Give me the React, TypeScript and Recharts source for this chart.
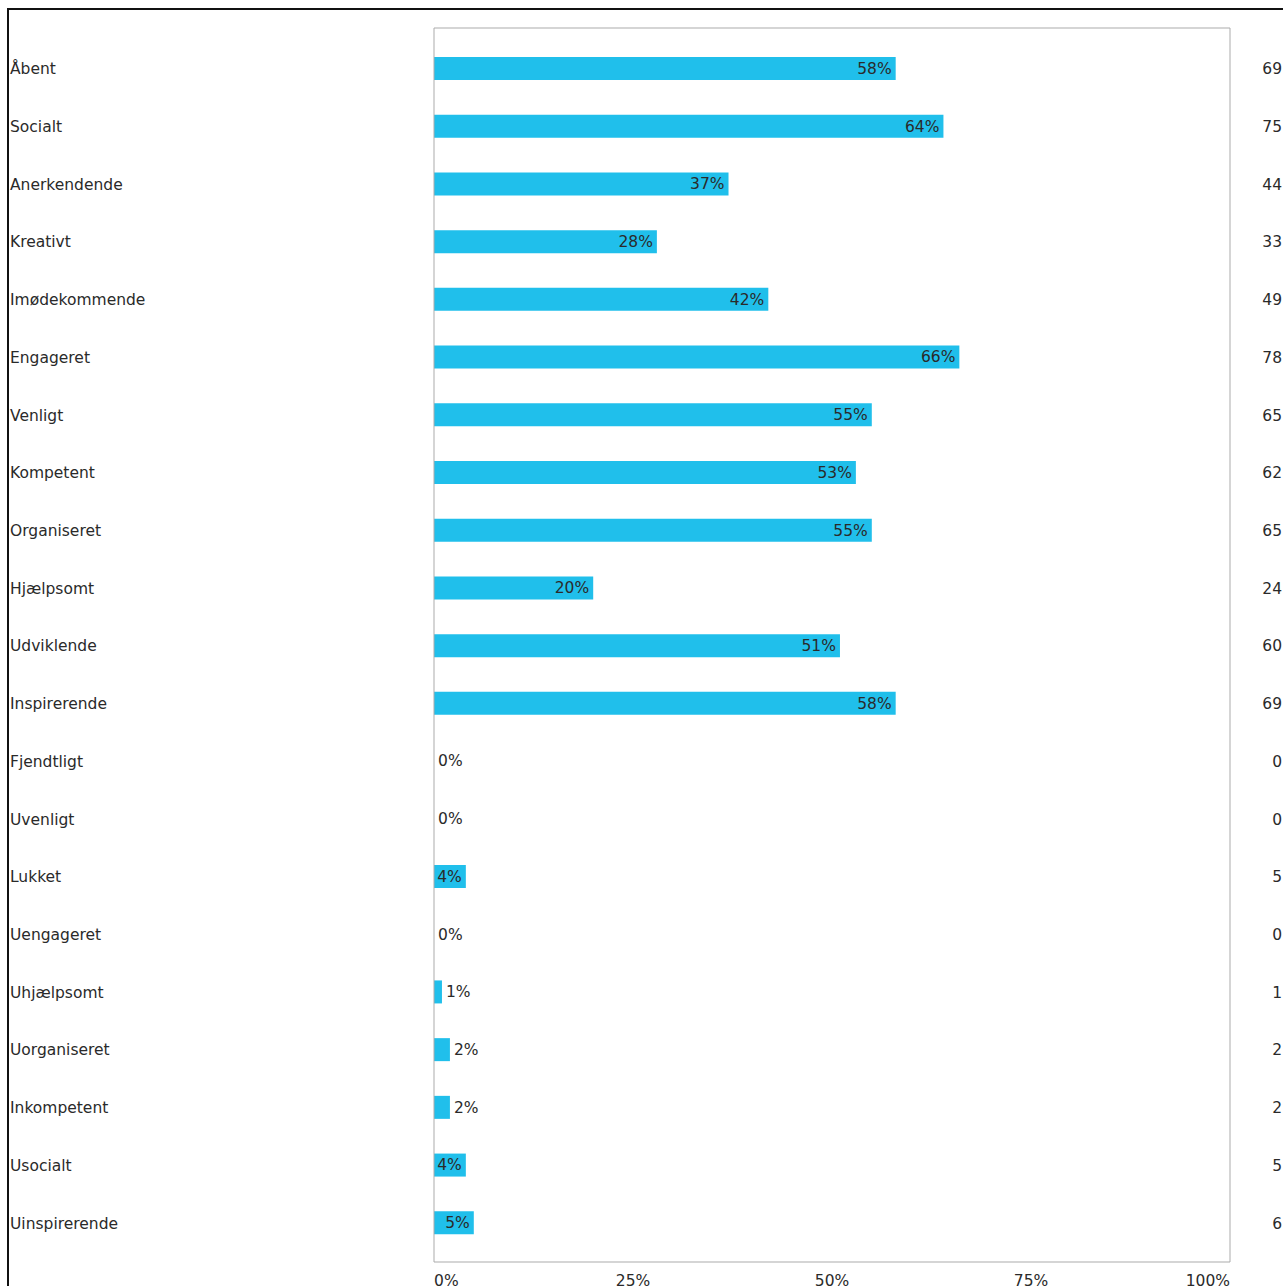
import React from "react";
import { BarChart, Bar, XAxis, YAxis, LabelList } from "recharts";

const categories = [
  "Åbent", "Socialt", "Anerkendende", "Kreativt", "Imødekommende", "Engageret", "Venligt",
  "Kompetent", "Organiseret", "Hjælpsomt", "Udviklende", "Inspirerende", "Fjendtligt",
  "Uvenligt", "Lukket", "Uengageret", "Uhjælpsomt", "Uorganiseret", "Inkompetent",
  "Usocialt", "Uinspirerende",
];
const percents = [58, 64, 37, 28, 42, 66, 55, 53, 55, 20, 51, 58, 0, 0, 4, 0, 1, 2, 2, 4, 5];
const counts = [69, 75, 44, 33, 49, 78, 65, 62, 65, 24, 60, 69, 0, 0, 5, 0, 1, 2, 2, 5, 6];
const xTicks = [0, 25, 50, 75, 100];

const data = categories.map((name, i) => ({ name, pct: percents[i], n: counts[i] }));

const FONT = "'DejaVu Sans', Verdana, sans-serif";
const FS = 15.5;
const TEXT = "#2a2a2a";
const BAR = "#20BFEB";
const FRAME = "#ababab";

const LeftTick = (props: any) => (
  <text x={10} y={props.y} dy="0.35em" fontFamily={FONT} fontSize={FS} fill={TEXT} textAnchor="start">
    {props.payload.value}
  </text>
);

const RightTick = (props: any) => (
  <text x={props.x + 44} y={props.y} dy="0.35em" fontFamily={FONT} fontSize={FS} fill={TEXT} textAnchor="end">
    {counts[props.payload.index]}
  </text>
);

const BottomTick = (props: any) => {
  const v = props.payload.value;
  const anchor = v === 0 ? "start" : v === 100 ? "end" : "middle";
  return (
    <text x={props.x} y={props.y + 16} fontFamily={FONT} fontSize={FS} fill={TEXT} textAnchor={anchor}>
      {v}%
    </text>
  );
};

// value label: inside the bar end when there's room, otherwise just right of it
const PctLabel = (props: any) => {
  const { x, y, width, height, value } = props;
  const inside = value >= 4;
  return (
    <text
      x={inside ? x + width - 4 : x + width + 4}
      y={y + height / 2}
      dy="0.35em"
      fontFamily={FONT}
      fontSize={FS}
      fill={TEXT}
      textAnchor={inside ? "end" : "start"}
    >
      {value}%
    </text>
  );
};

export default function App() {
  return (
    <div style={{ position: "absolute", top: 0, left: 0, width: 1283, height: 1286, overflow: "hidden", background: "#fff" }}>
      <div style={{ position: "absolute", top: 8, left: 7, right: 0, height: 2, background: "#111" }} />
      <div style={{ position: "absolute", top: 8, left: 7, bottom: 0, width: 2, background: "#111" }} />
      <BarChart
        layout="vertical"
        width={1290}
        height={1286}
        data={data}
        margin={{ top: 0, right: 0, bottom: 0, left: 0 }}
      >
        <XAxis
          xAxisId="top"
          orientation="top"
          type="number"
          domain={[0, 100]}
          height={28}
          tick={false}
          tickLine={false}
          axisLine={{ stroke: FRAME }}
        />
        <XAxis
          xAxisId="bottom"
          orientation="bottom"
          type="number"
          domain={[0, 100]}
          ticks={xTicks}
          height={24}
          tickLine={false}
          axisLine={{ stroke: FRAME }}
          tick={<BottomTick />}
        />
        <YAxis
          yAxisId="left"
          type="category"
          dataKey="name"
          width={434}
          padding={{ top: 12, bottom: 10 }}
          tickLine={false}
          axisLine={{ stroke: FRAME }}
          tick={<LeftTick />}
          interval={0}
        />
        <YAxis
          yAxisId="right"
          orientation="right"
          type="category"
          dataKey="name"
          width={60}
          padding={{ top: 12, bottom: 10 }}
          tickLine={false}
          axisLine={{ stroke: FRAME }}
          tick={<RightTick />}
          interval={0}
        />
        <Bar
          dataKey="pct"
          xAxisId="bottom"
          yAxisId="left"
          fill={BAR}
          barSize={23}
          minPointSize={(v: number) => (v === 0 ? 0.01 : 0)}
          isAnimationActive={false}
        >
          <LabelList dataKey="pct" content={<PctLabel />} />
        </Bar>
      </BarChart>
    </div>
  );
}
